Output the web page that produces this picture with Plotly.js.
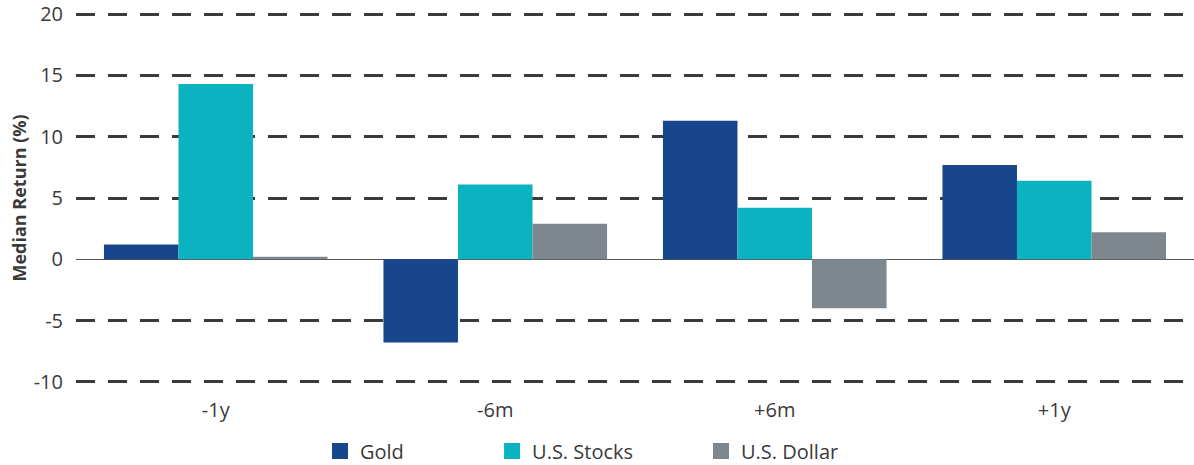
<!DOCTYPE html>
<html>
<head>
<meta charset="utf-8">
<script src="https://cdn.plot.ly/plotly-3.0.1.min.js"></script>
<style>html,body{margin:0;padding:0;background:#fff;}#chart{width:1194px;height:465px;}</style>
</head>
<body>
<div id="chart"></div>
<script>
const categories = ["-1y", "-6m", "+6m", "+1y"];
const goldValues = [1.2, -6.8, 11.3, 7.7];
const stocksValues = [14.3, 6.1, 4.2, 6.4];
const dollarValues = [0.2, 2.9, -4.0, 2.2];
const seriesNames = ["Gold", "U.S. Stocks", "U.S. Dollar"];
const yTicks = [-10, -5, 0, 5, 10, 15, 20];

const colors = ["#17468C", "#0BB3C1", "#7F878E"];
const txt = "#3a3a3a";
const font = "Open Sans, sans-serif";
const legendIds = ["legend", "legend2", "legend3"];
const legendX = [0.2680, 0.4121, 0.5871];

const series = [goldValues, stocksValues, dollarValues];
const data = [];
series.forEach((vals, i) => {
  data.push({
    type: "bar",
    x: categories,
    y: vals,
    name: seriesNames[i],
    marker: {color: colors[i], line: {width: 0}},
    showlegend: false,
    hoverinfo: "y"
  });
});
series.forEach((vals, i) => {
  data.push({
    type: "scatter",
    mode: "markers",
    x: categories,
    y: vals.map(() => null),
    name: seriesNames[i],
    legend: legendIds[i],
    marker: {color: colors[i], symbol: "square", size: 16, line: {width: 0}},
    showlegend: true,
    hoverinfo: "skip"
  });
});

const layout = {
  width: 1194,
  height: 465,
  margin: {l: 76, r: 0, t: 12.8, b: 81.8},
  paper_bgcolor: "#fff",
  plot_bgcolor: "#fff",
  font: {family: font, color: txt, size: 20},
  barmode: "group",
  bargap: 0.2,
  bargroupgap: 0,
  showlegend: true,
  xaxis: {
    type: "category",
    showgrid: false,
    showline: false,
    ticks: "",
    tickfont: {family: font, size: 20, color: txt},
    ticklabelstandoff: 13
  },
  yaxis: {
    range: [-10.1, 20.1],
    tickvals: yTicks,
    ticktext: yTicks.map(String),
    showgrid: true,
    gridcolor: "#3a3a3a",
    gridwidth: 3,
    griddash: "19px,13px",
    zeroline: true,
    zerolinecolor: "#555555",
    zerolinewidth: 1.5,
    showline: false,
    ticks: "",
    ticklabelstandoff: 12,
    tickfont: {family: font, size: 20, color: txt},
    title: {text: "Median Return (%)", font: {family: font, size: 18, color: txt, weight: "bold"}, standoff: 2}
  }
};
legendIds.forEach((id, i) => {
  layout[id] = {
    orientation: "h",
    xref: "container", yref: "container",
    x: legendX[i], xanchor: "left",
    y: 0.03, yanchor: "middle",
    bgcolor: "rgba(0,0,0,0)",
    font: {family: font, size: 20, color: txt},
    itemwidth: 30
  };
});

Plotly.newPlot("chart", data, layout, {displayModeBar: false, staticPlot: true});
</script>
</body>
</html>
